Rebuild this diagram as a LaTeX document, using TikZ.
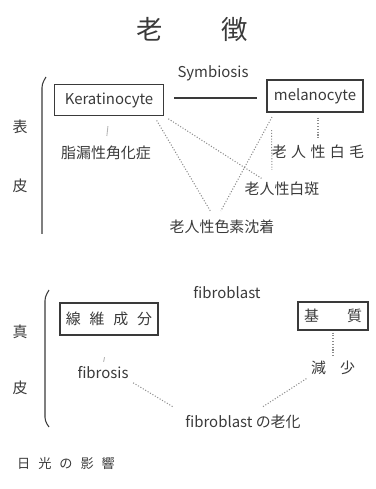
\documentclass[tikz,border=0pt]{standalone}
\usepackage{fontspec}
\setmainfont{Noto Sans CJK JP}
\usepackage{tikz}
\usetikzlibrary{calc, positioning}
\definecolor{InkGray}{HTML}{3A3A3A}
\definecolor{LineGray}{HTML}{8C8C8C}
\definecolor{PaleGray}{HTML}{B4B4B4}

\begin{document}
\begin{tikzpicture}[x=0.2mm, y=-0.2mm,
      box/.style={draw=InkGray, line width=0.7pt, inner sep=2pt, align=center,
                  font=\fontsize{8.5}{10}\selectfont, text=InkGray},
      lbl/.style={font=\fontsize{8.5}{10}\selectfont, text=InkGray, inner sep=1pt},
      link/.style={LineGray, densely dotted, line width=0.6pt},
      faint/.style={PaleGray, line width=0.5pt}]
      \useasboundingbox (0,0) rectangle (375,489);

      % Title
      \node[font=\fontsize{15}{17}\selectfont, text=InkGray] (title) at (192,30) {老\hspace{33pt}徴};

      % Epidermis
      \draw[InkGray, line width=0.6pt, rounded corners=2pt] (46,77) -- (42,84) -- (42,234);
      \node[lbl] (hyo) at (20,127) {表};
      \node[lbl] (hifu) at (20,186) {皮};

      \node[box, minimum width=21.8mm, minimum height=6.2mm] (kera) at (109,100) {Keratinocyte};
      \node[box, minimum width=19.2mm, minimum height=6.4mm] (mel) at (315,96) {melanocyte};
      \node[lbl] (symb) at (213,73) {Symbiosis};

      \node[lbl] (sebk) at (106,153) {脂漏性角化症};
      \node[lbl] (hakumo) at (318,152) {老\hspace{2.5pt}人\hspace{2.5pt}性\hspace{2.5pt}白\hspace{2.5pt}毛};
      \node[lbl] (hakuhan) at (282,189) {老人性白斑};
      \node[lbl] (shikiso) at (222,227) {老人性色素沈着};

      \draw[InkGray, line width=0.7pt, shorten <=2mm, shorten >=1.8mm] (kera.east |- 0,98) -- (mel.west |- 0,98);
      \draw[faint, shorten <=2mm, shorten >=1.6mm] (kera.south) -- (sebk.north);
      \draw[link, shorten <=1mm, shorten >=1.4mm] ([xshift=-2mm]kera.south east) -- ([xshift=-1.5mm]shikiso.north);
      \draw[link, shorten <=1mm, shorten >=0.6mm] (kera.south east) -- ([xshift=-3.6mm]hakuhan.north);
      \draw[link, shorten <=1mm, shorten >=1.6mm] ([xshift=1.6mm]mel.south west) -- ([xshift=-1mm]shikiso.north);
      \draw[link, shorten <=3.5mm, shorten >=2mm] ([xshift=1mm]mel.south west) -- ([xshift=-2mm]hakuhan.north);
      \draw[link, shorten <=1mm, shorten >=0.6mm] (mel.south -| hakumo.north) -- (hakumo.north);

      % Dermis
      \draw[InkGray, line width=0.6pt, rounded corners=2pt] (49,290) -- (45,297) -- (45,421) -- (49,427);
      \node[lbl] (shin) at (20,332) {真};
      \node[lbl] (hifu2) at (20,388) {皮};

      \node[lbl] (fibro) at (227,293) {fibroblast};
      \node[box, minimum width=19.6mm, minimum height=6.4mm] (sen) at (109,319) {線\hspace{5pt}維\hspace{5pt}成\hspace{5pt}分};
      \node[box, minimum width=14mm, minimum height=5.6mm] (kishitsu) at (333,316) {基\hspace{16pt}質};

      \node[lbl] (fibrosis) at (103,373) {fibrosis};
      \node[lbl] (gensho) at (333,368) {減\hspace{8pt}少};
      \node[lbl] (roka) at (243,422) {fibroblast の老化};

      \draw[faint, shorten <=4.4mm, shorten >=0.6mm] (sen.south) -- (fibrosis.north);
      \draw[link, shorten <=0.4mm, shorten >=0.6mm] (kishitsu.south) -- (gensho.north);
      \draw[link, shorten <=0.6mm, shorten >=2.2mm] (fibrosis.south east) -- (roka.north west);
      \draw[link, shorten <=0.6mm, shorten >=2.2mm] (gensho.south west) -- ([xshift=2mm]roka.north);

      % Footer
      \node[font=\fontsize{7.5}{9}\selectfont, text=InkGray] (nikko) at (66,463)
            {日\hspace{4.5pt}光\hspace{4.5pt}の\hspace{4.5pt}影\hspace{4.5pt}響};
    \end{tikzpicture}
\end{document}
